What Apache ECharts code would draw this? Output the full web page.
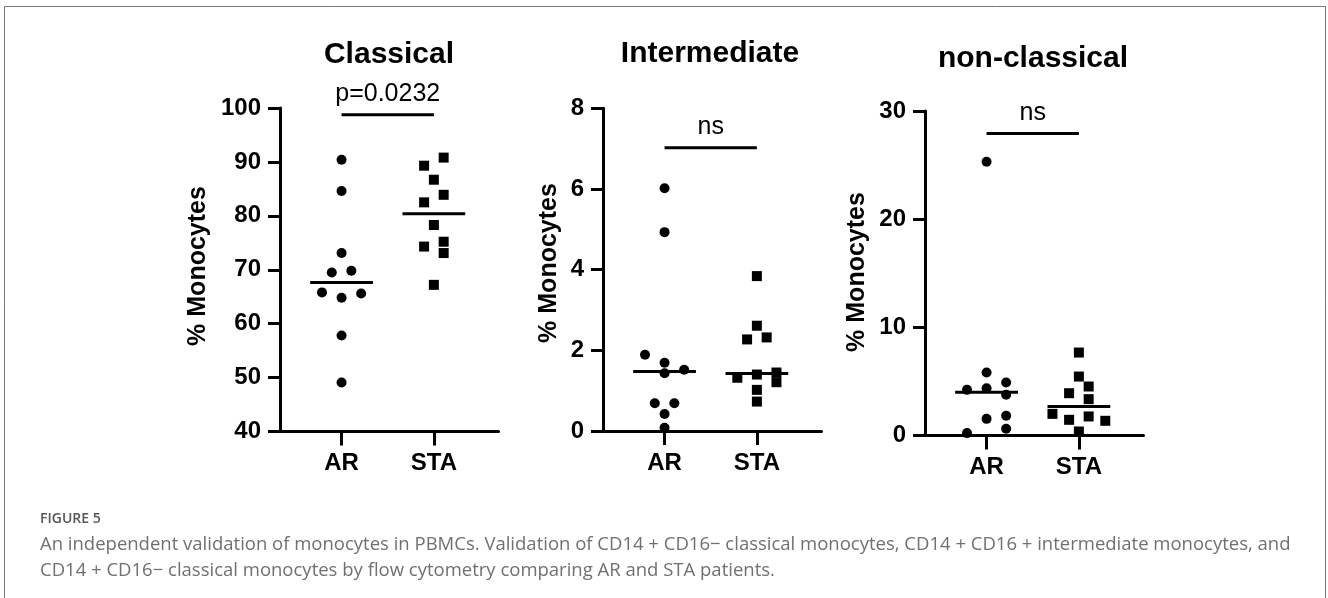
<!DOCTYPE html>
<html>
<head>
<meta charset="utf-8">
<script src="https://cdn.jsdelivr.net/npm/echarts@6/dist/echarts.min.js"></script>
<style>
  html, body { margin: 0; padding: 0; background: #fff; }
  #main { width: 1328px; height: 598px; }
</style>
</head>
<body>
<div id="main"></div>
<script>
// groups and panel titles
var categories = ['AR', 'STA'];
var titles = ['Classical', 'Intermediate', 'non-classical'];
var sigLabels = ['p=0.0232', 'ns', 'ns'];
var sigLevels = [98.75, 7.02, 27.93];

// % monocytes (jitter = horizontal swarm slot of each dot)
var classicalAR = [90.4, 84.6, 73.1, 69.5, 69.8, 65.8, 64.8, 65.6, 57.8, 49.1];
var classicalARJitter = [0, 0, 0, -1, 1, -2, 0, 2, 0, 0];
var classicalSTA = [90.8, 89.3, 86.7, 83.9, 82.5, 78.3, 75.2, 74.3, 73.1, 67.2];
var classicalSTAJitter = [1, -1, 0, 1, -1, 0, 1, -1, 1, 0];

var intermediateAR = [6.02, 4.93, 1.89, 1.69, 1.52, 1.43, 0.69, 0.69, 0.42, 0.08];
var intermediateARJitter = [0, 0, -2, 0, 2, 0, -1, 1, 0, 0];
var intermediateSTA = [3.84, 2.61, 2.27, 2.32, 1.32, 1.40, 1.45, 1.21, 1.02, 0.73];
var intermediateSTAJitter = [0, 0, -1, 1, -2, 0, 2, 2, 0, 0];

var nonClassicalAR = [25.3, 5.82, 4.90, 4.37, 4.22, 3.76, 1.82, 1.54, 0.62, 0.22];
var nonClassicalARJitter = [0, 0, 2, 0, -2, 2, 2, 0, 2, -2];
var nonClassicalSTA = [7.67, 5.45, 4.53, 3.91, 3.36, 2.00, 1.76, 1.45, 1.36, 0.37];
var nonClassicalSTAJitter = [0, 0, 1, -1, 1, -2.7, 1, -1, 2.7, 0];

// y axis ranges
var yMins = [40, 0, 0];
var yMaxs = [100, 8, 30];
var yIntervals = [10, 2, 10];

var panels = [
    [[classicalAR, classicalARJitter], [classicalSTA, classicalSTAJitter]],
    [[intermediateAR, intermediateARJitter], [intermediateSTA, intermediateSTAJitter]],
    [[nonClassicalAR, nonClassicalARJitter], [nonClassicalSTA, nonClassicalSTAJitter]]
];

var FONT = '"Liberation Sans", Arial, sans-serif';
var STEP = 0.106;      // swarm slot width in x units
var HALF = 0.34;       // half width of the median line
var grids = [
    { left: 280, top: 108, width: 218.5, height: 323.5 },
    { left: 603, top: 108.3, width: 218.5, height: 322.7 },
    { left: 925, top: 111, width: 218.5, height: 324.5 }
];

function median(arr) {
    var s = arr.slice().sort(function (a, b) { return a - b; });
    var n = s.length;
    return n % 2 ? s[(n - 1) / 2] : (s[n / 2 - 1] + s[n / 2]) / 2;
}

var xAxes = [], yAxes = [], series = [];
grids.forEach(function (g, p) {
    xAxes.push({
        type: 'value', gridIndex: p, min: 0.333, max: 2.7,
        axisLine: { show: true, onZero: false, lineStyle: { color: '#000', width: 3 } },
        axisTick: { show: true, customValues: [1, 2], length: 14, lineStyle: { color: '#000', width: 3 } },
        axisLabel: {
            customValues: [1, 2], margin: 20,
            formatter: function (v) { return categories[Math.round(v) - 1]; },
            fontFamily: FONT, fontWeight: 'bold', fontSize: 24, color: '#000'
        },
        splitLine: { show: false }
    });
    yAxes.push({
        type: 'value', gridIndex: p, min: yMins[p], max: yMaxs[p], interval: yIntervals[p],
        axisLine: { show: true, onZero: false, lineStyle: { color: '#000', width: 3 } },
        axisTick: { show: true, length: 12, lineStyle: { color: '#000', width: 3 } },
        axisLabel: { margin: 19, fontFamily: FONT, fontWeight: 'bold', fontSize: 24, color: '#000' },
        splitLine: { show: false }
    });
    panels[p].forEach(function (grp, k) {
        var vals = grp[0], jit = grp[1], c = k + 1;
        series.push({
            type: 'scatter', xAxisIndex: p, yAxisIndex: p, clip: false,
            symbol: k === 0 ? 'circle' : 'rect', symbolSize: 10,
            itemStyle: { color: '#000', opacity: 1 },
            data: vals.map(function (v, i) { return [c + jit[i] * STEP, v]; })
        });
        var m = median(vals);
        series.push({
            type: 'line', xAxisIndex: p, yAxisIndex: p, symbol: 'none', silent: true,
            lineStyle: { color: '#000', width: 3 },
            data: [[c - HALF, m], [c + HALF, m]]
        });
    });
    series.push({
        type: 'line', xAxisIndex: p, yAxisIndex: p, symbol: 'none', silent: true,
        lineStyle: { color: '#000', width: 3 },
        data: [[1, sigLevels[p]], [2, sigLevels[p]]],
        markPoint: {
            symbol: 'circle', symbolSize: 0,
            data: [{ coord: [1.5, sigLevels[p]] }],
            label: {
                show: true, position: 'top', distance: 8, formatter: sigLabels[p],
                fontFamily: FONT, fontSize: 25, color: '#000'
            }
        }
    });
});

var titlePos = [[389, 55], [710, 54], [1033, 59]];
var namePos = [[198, 266], [549, 263], [857, 272]];
var graphics = [];
titles.forEach(function (t, p) {
    graphics.push({
        type: 'text', x: titlePos[p][0], y: titlePos[p][1],
        style: { text: t, font: 'bold 30px ' + FONT, fill: '#000',
                 textAlign: 'center', textVerticalAlign: 'middle', align: 'center', verticalAlign: 'middle' }
    });
    graphics.push({
        type: 'text', x: namePos[p][0], y: namePos[p][1], rotation: Math.PI / 2,
        style: { text: '% Monocytes', font: 'bold 25px ' + FONT, fill: '#000',
                 textAlign: 'center', textVerticalAlign: 'middle', align: 'center', verticalAlign: 'middle' }
    });
});

// figure frame and caption
var CAP = '"Open Sans", "Noto Sans", sans-serif';
graphics.push({
    type: 'rect', shape: { x: 4.5, y: 6.5, width: 1321, height: 620 },
    style: { fill: 'none', stroke: '#777', lineWidth: 1 }, z: -1
});
graphics.push({
    type: 'text', x: 40, y: 519,
    style: { text: 'FIGURE 5', font: '600 14px ' + CAP, fill: '#555',
             textVerticalAlign: 'middle', verticalAlign: 'middle' }
});
graphics.push({
    type: 'text', x: 40, y: 545,
    style: { text: 'An independent validation of monocytes in PBMCs. Validation of CD14 + CD16\u2212 classical monocytes, CD14 + CD16 + intermediate monocytes, and',
             font: '18.5px ' + CAP, fill: '#707070', textVerticalAlign: 'middle', verticalAlign: 'middle' }
});
graphics.push({
    type: 'text', x: 40, y: 571,
    style: { text: 'CD14 + CD16\u2212 classical monocytes by flow cytometry comparing AR and STA patients.',
             font: '18.5px ' + CAP, fill: '#707070', textVerticalAlign: 'middle', verticalAlign: 'middle' }
});

var chart = echarts.init(document.getElementById('main'));
chart.setOption({
    animation: false,
    backgroundColor: '#fff',
    grid: grids,
    xAxis: xAxes,
    yAxis: yAxes,
    series: series,
    graphic: graphics
});
</script>
</body>
</html>
